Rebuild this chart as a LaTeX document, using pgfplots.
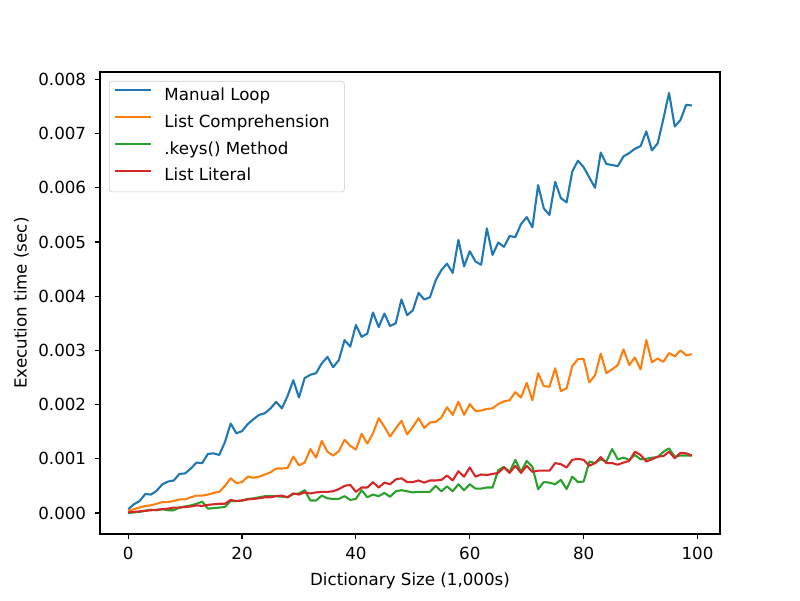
\documentclass[border=0pt]{standalone}
\usepackage{pgfplots}
\usepackage{pgfplotstable}
\pgfplotsset{compat=1.18}
\usepackage{fontspec}
\setmainfont{DejaVu Sans}
\definecolor{c0}{HTML}{1F77B4}
\definecolor{c1}{HTML}{FF7F0E}
\definecolor{c2}{HTML}{2CA02C}
\definecolor{c3}{HTML}{D62728}
\pgfplotstableread{
i blue orange green red
0 0.00007 0.00004 0.00000 0.00001
1 0.00016 0.00007 0.00001 0.00002
2 0.00022 0.00010 0.00002 0.00003
3 0.00035 0.00013 0.00004 0.00004
4 0.00034 0.00014 0.00006 0.00005
5 0.00041 0.00017 0.00005 0.00006
6 0.00053 0.00020 0.00007 0.00007
7 0.00058 0.00020 0.00005 0.00008
8 0.00060 0.00022 0.00005 0.00010
9 0.00072 0.00025 0.00010 0.00010
10 0.00073 0.00025 0.00012 0.00011
11 0.00082 0.00029 0.00014 0.00012
12 0.00093 0.00032 0.00017 0.00014
13 0.00092 0.00032 0.00021 0.00013
14 0.00109 0.00034 0.00008 0.00015
15 0.00110 0.00037 0.00009 0.00016
16 0.00107 0.00039 0.00010 0.00017
17 0.00131 0.00050 0.00011 0.00017
18 0.00165 0.00064 0.00022 0.00024
19 0.00147 0.00055 0.00022 0.00022
20 0.00151 0.00057 0.00023 0.00023
21 0.00164 0.00067 0.00026 0.00025
22 0.00173 0.00065 0.00027 0.00026
23 0.00181 0.00067 0.00029 0.00027
24 0.00184 0.00071 0.00031 0.00029
25 0.00193 0.00075 0.00031 0.00029
26 0.00205 0.00082 0.00031 0.00031
27 0.00193 0.00082 0.00030 0.00032
28 0.00216 0.00083 0.00029 0.00029
29 0.00245 0.00104 0.00035 0.00036
30 0.00213 0.00088 0.00036 0.00034
31 0.00249 0.00093 0.00042 0.00038
32 0.00255 0.00118 0.00023 0.00036
33 0.00258 0.00102 0.00023 0.00038
34 0.00276 0.00133 0.00032 0.00039
35 0.00288 0.00113 0.00027 0.00039
36 0.00269 0.00106 0.00026 0.00040
37 0.00282 0.00114 0.00026 0.00044
38 0.00319 0.00135 0.00031 0.00050
39 0.00307 0.00124 0.00024 0.00052
40 0.00347 0.00117 0.00026 0.00039
41 0.00325 0.00146 0.00042 0.00047
42 0.00331 0.00128 0.00029 0.00047
43 0.00370 0.00147 0.00034 0.00057
44 0.00343 0.00175 0.00031 0.00047
45 0.00368 0.00159 0.00037 0.00056
46 0.00345 0.00141 0.00030 0.00053
47 0.00350 0.00156 0.00040 0.00062
48 0.00394 0.00170 0.00042 0.00064
49 0.00365 0.00145 0.00040 0.00057
50 0.00374 0.00159 0.00038 0.00057
51 0.00406 0.00175 0.00039 0.00060
52 0.00394 0.00157 0.00039 0.00056
53 0.00398 0.00167 0.00039 0.00060
54 0.00429 0.00168 0.00050 0.00060
55 0.00448 0.00176 0.00040 0.00061
56 0.00460 0.00195 0.00049 0.00069
57 0.00443 0.00181 0.00040 0.00060
58 0.00504 0.00205 0.00053 0.00077
59 0.00455 0.00181 0.00042 0.00067
60 0.00483 0.00201 0.00053 0.00084
61 0.00464 0.00188 0.00045 0.00067
62 0.00458 0.00189 0.00045 0.00071
63 0.00525 0.00192 0.00047 0.00070
64 0.00476 0.00193 0.00047 0.00072
65 0.00499 0.00201 0.00079 0.00074
66 0.00491 0.00206 0.00085 0.00084
67 0.00511 0.00208 0.00076 0.00074
68 0.00509 0.00223 0.00098 0.00087
69 0.00533 0.00213 0.00076 0.00074
70 0.00546 0.00240 0.00096 0.00087
71 0.00527 0.00208 0.00085 0.00076
72 0.00605 0.00258 0.00044 0.00078
73 0.00562 0.00234 0.00057 0.00078
74 0.00550 0.00233 0.00056 0.00078
75 0.00611 0.00267 0.00053 0.00092
76 0.00581 0.00225 0.00061 0.00090
77 0.00573 0.00230 0.00044 0.00084
78 0.00630 0.00271 0.00067 0.00098
79 0.00650 0.00284 0.00057 0.00100
80 0.00638 0.00284 0.00058 0.00098
81 0.00619 0.00241 0.00095 0.00087
82 0.00600 0.00254 0.00092 0.00092
83 0.00665 0.00294 0.00099 0.00103
84 0.00644 0.00258 0.00095 0.00092
85 0.00642 0.00265 0.00118 0.00092
86 0.00640 0.00273 0.00099 0.00089
87 0.00658 0.00302 0.00102 0.00093
88 0.00664 0.00273 0.00098 0.00096
89 0.00672 0.00287 0.00107 0.00113
90 0.00677 0.00265 0.00099 0.00107
91 0.00704 0.00319 0.00100 0.00095
92 0.00669 0.00278 0.00102 0.00099
93 0.00682 0.00285 0.00103 0.00104
94 0.00727 0.00279 0.00113 0.00105
95 0.00775 0.00295 0.00119 0.00113
96 0.00713 0.00289 0.00104 0.00101
97 0.00725 0.00300 0.00106 0.00111
98 0.00753 0.00291 0.00106 0.00110
99 0.00752 0.00293 0.00106 0.00106
}\data
\begin{document}
\begin{tikzpicture}
\useasboundingbox (0,0) rectangle (576pt,432pt);
\begin{axis}[
  at={(72pt,47.52pt)}, anchor=south west,
  scale only axis, width=446.4pt, height=332.64pt,
  xmin=-4.95, xmax=103.95, ymin=-0.000388, ymax=0.008137,
  xtick={0,20,40,60,80,100},
  ytick={0,0.001,0.002,0.003,0.004,0.005,0.006,0.007,0.008},
  scaled y ticks=false,
  /pgf/number format/assume math mode=true,
  tick align=outside, tick pos=left,
  major tick length=3.5pt,
  every tick/.style={black, line width=0.8pt},
  axis line style={line width=0.8pt},
  tick label style={font=\fontsize{12}{14}\selectfont, inner sep=0pt},
  xticklabel style={anchor=base, yshift=-14.9pt},
  yticklabel style={anchor=base east, yshift=-4.37pt, xshift=-6.3pt,
    /pgf/number format/fixed, /pgf/number format/fixed zerofill, /pgf/number format/precision=3},
  label style={font=\fontsize{12}{14}\selectfont, inner sep=0pt},
  xlabel={Dictionary Size (1,000s)},
  ylabel={Execution time (sec)},
  xlabel style={at={(axis description cs:0.5,-0.11243)}, anchor=base},
  ylabel style={at={(axis description cs:-0.11828,0.5)}, anchor=base},
  legend cell align=left,
  legend image code/.code={\draw[#1, line width=1.5pt] (0pt,4.4pt) -- (26pt,4.4pt);},
  legend style={at={(0.0145,0.9806)}, anchor=north west,
    draw=black!20, rounded corners=2pt, fill=white, fill opacity=0.8, text opacity=1,
    inner xsep=3.6pt, inner ysep=5.3pt,
    font=\fontsize{12}{14}\selectfont,
    nodes={inner sep=0pt, text height=8.75pt, text depth=2.6pt},
    row sep=7.9pt, column sep=8.6pt},
  every axis plot/.append style={line width=1.5pt, line join=round},
]
\addplot[c0] table[x=i, y=blue] {\data};
\addlegendentry{Manual Loop}
\addplot[c1] table[x=i, y=orange] {\data};
\addlegendentry{List Comprehension\kern7pt}
\addplot[c2] table[x=i, y=green] {\data};
\addlegendentry{.keys() Method}
\addplot[c3] table[x=i, y=red] {\data};
\addlegendentry{List Literal}
\end{axis}
\end{tikzpicture}
\end{document}
